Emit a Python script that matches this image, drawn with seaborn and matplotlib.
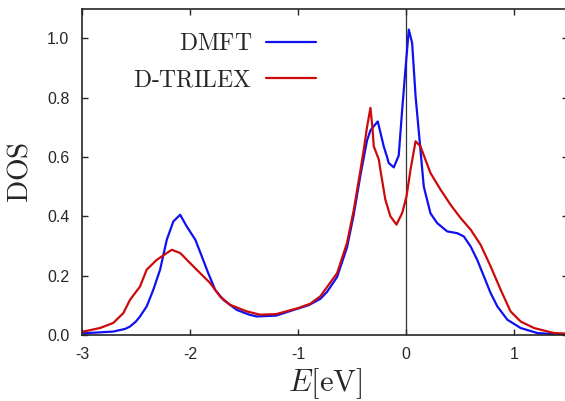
import pandas as pd
import seaborn as sns
import matplotlib.pyplot as plt

# DMFT curve
dmft_E = [-3.0, -2.85, -2.71, -2.6, -2.555, -2.5, -2.462, -2.4, -2.339, -2.276, -2.214,
          -2.153, -2.09, -2.03, -1.95, -1.89, -1.83, -1.766, -1.69, -1.565, -1.45, -1.38,
          -1.2, -1.04, -0.9, -0.79, -0.73, -0.637, -0.545, -0.483, -0.42, -0.36, -0.328,
          -0.26, -0.205, -0.174, -0.159, -0.112, -0.066, -0.034, -0.004, 0.027, 0.058,
          0.09, 0.135, 0.166, 0.197, 0.228, 0.29, 0.383, 0.476, 0.537, 0.6, 0.661,
          0.723, 0.785, 0.847, 0.94, 1.063, 1.218, 1.35, 1.5]
dmft_dos = [0.005, 0.008, 0.011, 0.02, 0.028, 0.045, 0.062, 0.096, 0.152, 0.22, 0.321,
            0.383, 0.405, 0.366, 0.321, 0.265, 0.208, 0.152, 0.118, 0.084, 0.068, 0.062,
            0.065, 0.084, 0.1, 0.122, 0.145, 0.195, 0.295, 0.405, 0.54, 0.655, 0.69,
            0.72, 0.636, 0.6, 0.58, 0.565, 0.605, 0.76, 0.895, 1.03, 0.985,
            0.805, 0.625, 0.5, 0.455, 0.41, 0.377, 0.349, 0.343, 0.332, 0.298, 0.253,
            0.197, 0.141, 0.096, 0.051, 0.023, 0.006, 0.003, 0.002]

# D-TRILEX curve
trilex_E = [-3.0, -2.833, -2.71, -2.617, -2.555, -2.462, -2.4, -2.307, -2.214, -2.168,
            -2.09, -1.998, -1.905, -1.813, -1.72, -1.627, -1.472, -1.35, -1.2, -1.0,
            -0.885, -0.792, -0.637, -0.545, -0.483, -0.42, -0.39, -0.36, -0.328, -0.31,
            -0.297, -0.25, -0.236, -0.19, -0.143, -0.087, -0.034, 0.006, 0.043, 0.09,
            0.135, 0.228, 0.321, 0.414, 0.507, 0.6, 0.692, 0.785, 0.878, 0.97, 1.063,
            1.187, 1.372, 1.5]
trilex_dos = [0.01, 0.023, 0.04, 0.073, 0.118, 0.163, 0.22, 0.253, 0.276, 0.287,
              0.276, 0.242, 0.208, 0.175, 0.129, 0.101, 0.079, 0.068, 0.07, 0.09,
              0.105, 0.13, 0.208, 0.31, 0.42, 0.557, 0.625, 0.7, 0.766, 0.7,
              0.636, 0.591, 0.557, 0.456, 0.4, 0.372, 0.411, 0.467, 0.557, 0.653,
              0.636, 0.546, 0.49, 0.439, 0.394, 0.355, 0.304, 0.231, 0.152, 0.079, 0.045,
              0.023, 0.006, 0.004]

df = pd.concat([
    pd.DataFrame({'E': dmft_E, 'DOS': dmft_dos, 'method': 'DMFT'}),
    pd.DataFrame({'E': trilex_E, 'DOS': trilex_dos, 'method': 'D-TRILEX'}),
])

sns.set_style('ticks')
plt.rcParams['font.family'] = ['Liberation Sans', 'DejaVu Sans']
plt.rcParams['mathtext.fontset'] = 'cm'

fig = plt.figure(figsize=(5.65, 4.01), dpi=100)
# right edge of the axes runs just past the picture, like the reference
ax = fig.add_axes([0.145, 0.165, 0.86, 0.813])

sns.lineplot(data=df, x='E', y='DOS', hue='method', estimator=None, sort=False,
             palette={'DMFT': '#1010f0', 'D-TRILEX': '#cc0a0a'}, linewidth=1.6, ax=ax)

ax.axvline(0, color='#333333', linewidth=0.9, zorder=0)

ax.set_xlim(-3, 1.5)
ax.set_ylim(0, 1.1)
ax.set_xticks([-3, -2, -1, 0, 1])
ax.set_xticklabels(['-3', '-2', '-1', '0', '1'])
ax.set_yticks([0, 0.2, 0.4, 0.6, 0.8, 1.0])
ax.set_yticklabels(['0.0', '0.2', '0.4', '0.6', '0.8', '1.0'])
ax.tick_params(direction='in', top=True, right=True, length=4, width=1,
               labelsize=11.5, pad=9)
for s in ax.spines.values():
    s.set_linewidth(1.2)

ax.set_xlabel(r'$E[\mathrm{eV}]$', fontsize=22, labelpad=3)
ax.set_ylabel(r'$\mathrm{DOS}$', fontsize=21, labelpad=10)

handles, labels = ax.get_legend_handles_labels()
ax.legend(handles, [r'$\mathrm{DMFT}$', r'$\mathrm{D\text{-}TRILEX}$'],
          loc='upper right', bbox_to_anchor=(0.525, 0.99), frameon=False,
          markerfirst=False, fontsize=17, handlelength=2.1, handletextpad=0.6,
          labelspacing=0.58)

plt.savefig('out.png', dpi=100)
